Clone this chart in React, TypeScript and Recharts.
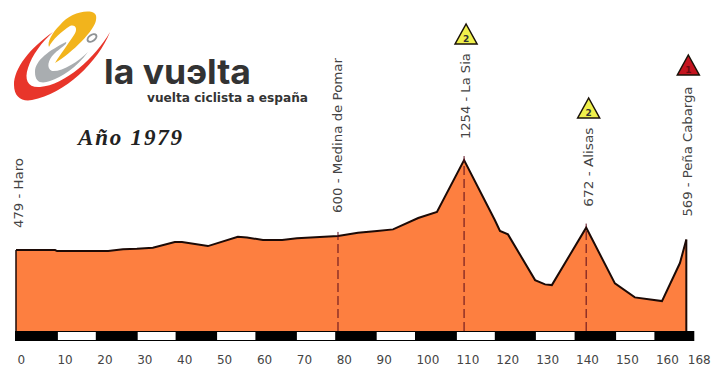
import React from "react";
import { ComposedChart, Area, XAxis, YAxis, ReferenceArea, ReferenceLine, ReferenceDot } from "recharts";

const profileKm = [0, 9.8, 10.3, 23.1, 26.8, 30.3, 34.3, 39.8, 41.6, 48.1, 55.6, 57.9, 61.9, 66.7, 70.4, 80.7, 85.7, 90.5, 94.5, 100.8, 105.5, 112.3, 120.0, 121.3, 123.3, 130.1, 132.6, 134.3, 142.9, 150.1, 155.1, 161.9, 166.4, 168];
const profileElev = [479, 479, 470, 470, 485, 490, 499, 548, 548, 513, 594, 588, 565, 565, 580, 600, 628, 643, 657, 755, 807, 1254, 738, 643, 614, 220, 183, 177, 672, 192, 71, 39, 367, 569];

const whiteBandStart = [10.5, 30.5, 50.4, 70.4, 90.4, 110.5, 130.3, 150.4];
const whiteBandEnd = [20, 40, 60, 80, 100, 120, 140, 160];
const xTicks = [0, 10, 20, 30, 40, 50, 60, 70, 80, 90, 100, 110, 120, 130, 140, 150, 160, 168];

const placeNames = ["Haro", "Medina de Pomar", "La Sia", "Alisas", "Peña Cabarga"];
const placeKm = [0, 80.7, 112.3, 142.9, 168];
const placeElev = [479, 600, 1254, 672, 569];
const placeCategory = [0, 0, 2, 2, 1];

const profile = profileKm.map((km, i) => ({ km, elev: profileElev[i] }));

const BASE = -219;
const BAND_BOTTOM = -305;
const TOP = 2634;
const labelGap = [22, 23, 21, 21, 23];
const labelDx = [3, 0, 2, 2.5, 2];
const labelLength = [70, 155, 86, 79, 130];
const markerBase = [0, 0, 44, 118, 75];
const ink = "#1c0a06";

const PlaceMark = (props: any) => {
  const { cx, cy, index } = props;
  const x = cx + labelDx[index];
  const y = cy - labelGap[index];
  const cat = placeCategory[index];
  const label = `${placeElev[index]} - ${placeNames[index]}`;
  const mb = markerBase[index];
  return (
    <g>
      <text
        transform={`translate(${x + 4},${y}) rotate(-90)`}
        fontFamily="DejaVu Sans"
        fontSize={12}
        fill="#444"
        textLength={labelLength[index]}
        lengthAdjust="spacingAndGlyphs"
      >
        {label}
      </text>
      {cat > 0 && (
        <g>
          <polygon
            points={`${x},${mb - 20} ${x + 11},${mb} ${x - 11},${mb}`}
            fill={cat === 1 ? "#c4141f" : "#f0f04c"}
            stroke="#1a1208"
            strokeWidth={1.5}
          />
          <text x={x} y={mb - 2.5} textAnchor="middle" fontFamily="DejaVu Sans" fontWeight="bold" fontSize={9} fill={cat === 1 ? "#6a0a10" : "#333"}>
            {cat}
          </text>
        </g>
      )}
    </g>
  );
};

const KmTick = (props: any) => {
  const { x, y, payload } = props;
  return (
    <text x={x + 1.5} y={y + 17} textAnchor="start" fontFamily="DejaVu Sans" fontSize={12} fill="#444">
      {payload.value}
    </text>
  );
};

const Logo = () => (
  <svg width={320} height={160} style={{ position: "absolute", left: 0, top: 0 }}>
    <path d="M53,32 C30,48 14,68 14,85 C14,97 22,102 32,100 C65,94 98,62 110,32 C95,58 65,85 40,87 C28,88 24,80 28,68 C32,55 42,42 53,32Z" fill="#e8352a" />
    <path d="M66,42 C50,50 35,60 35,72 C35,83 42,84 50,81 C62,77 76,68 88,52 C78,62 62,72 52,71 C46,68 48,60 54,54 C60,48 68,44 66,42Z" fill="#a9adb0" />
    <ellipse cx={92} cy={38} rx={5} ry={3} fill="none" stroke="#8f9396" strokeWidth={2} transform="rotate(-35 92 38)" />
    <path d="M92,12 C82,10 68,15 60,25 C52,33 47,42 49,47 C52,40 62,31 70,26 C76,24 78,30 74,35 C68,44 60,55 55,63 C72,53 95,30 96,20 C97,15 95,13 92,12Z" fill="#f2b41c" />
    <text x={104} y={84} fontFamily="Inter" fontWeight="bold" fontSize={34} fill="#333" textLength={147} lengthAdjust="spacingAndGlyphs">
      la vuэlta
    </text>
    <text x={147} y={102} fontFamily="DejaVu Sans" fontWeight="bold" fontSize={12} fill="#333" textLength={161} lengthAdjust="spacingAndGlyphs">
      vuelta ciclista a españa
    </text>
    <text x={78} y={145} fontFamily="Liberation Serif" fontStyle="italic" fontWeight="bold" fontSize={23} fill="#222" textLength={104}>
      Año 1979
    </text>
  </svg>
);

export default function App() {
  return (
    <div style={{ position: "absolute", left: 0, top: 0, width: 717, height: 372, background: "#fff" }}>
      <ComposedChart width={717} height={372} data={profile} margin={{ top: 0, right: 22.7, bottom: 0, left: 15 }}>
        <XAxis
          dataKey="km"
          type="number"
          domain={[-0.25, 170]}
          ticks={xTicks}
          interval={0}
          axisLine={false}
          tickLine={false}
          height={31}
          tickMargin={0}
          tick={<KmTick />}
        />
        <YAxis type="number" domain={[BAND_BOTTOM, TOP]} hide />
        <Area
          dataKey="elev"
          type="linear"
          baseValue={BASE}
          fill="#fd7f40"
          fillOpacity={1}
          stroke={ink}
          strokeWidth={2}
          dot={false}
          activeDot={false}
          isAnimationActive={false}
        />
        <ReferenceArea x1={-0.25} x2={170} y1={BAND_BOTTOM} y2={BASE} fill="#000" fillOpacity={1} stroke="none" />
        {whiteBandStart.map((s, i) => (
          <ReferenceArea key={s} x1={s} x2={whiteBandEnd[i]} y1={BAND_BOTTOM + 8} y2={BASE - 8} fill="#fff" fillOpacity={1} stroke="none" />
        ))}
        <ReferenceLine segment={[{ x: 0, y: BASE }, { x: 0, y: 479 }]} stroke={ink} strokeWidth={1.5} />
        <ReferenceLine segment={[{ x: 168, y: BASE }, { x: 168, y: 569 }]} stroke={ink} strokeWidth={2} />
        {placeKm.slice(1, 4).map((km, i) => (
          <ReferenceLine
            key={km}
            segment={[{ x: km, y: BASE }, { x: km, y: placeElev[i + 1] + 35 }]}
            stroke="#5a0a1a"
            strokeWidth={1}
            strokeDasharray="9 4"
          />
        ))}
        {placeKm.map((km, i) => (
          <ReferenceDot key={km} x={km} y={placeElev[i]} r={0} ifOverflow="visible" shape={(p: any) => <PlaceMark {...p} index={i} />} />
        ))}
      </ComposedChart>
      <Logo />
    </div>
  );
}
